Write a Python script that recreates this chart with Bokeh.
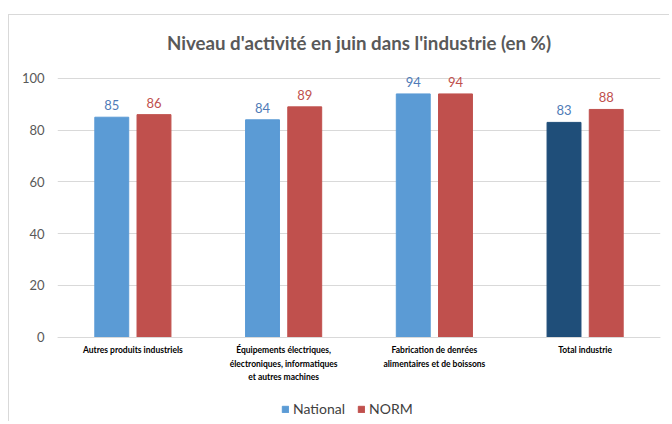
from bokeh.plotting import figure
from bokeh.models import ColumnDataSource, Legend, LegendItem, FixedTicker
from bokeh.transform import dodge
from bokeh.core.properties import value
from bokeh.embed import file_html
from bokeh.resources import INLINE

categories = [
    "Autres produits industriels",
    "Équipements électriques,\nélectroniques, informatiques\net autres machines",
    "Fabrication de denrées\nalimentaires et de boissons",
    "Total industrie",
]
national = [85, 84, 94, 83]
norm = [86, 89, 94, 88]
national_colors = ["#5b9bd5", "#5b9bd5", "#5b9bd5", "#1f4e79"]
y_ticks = [0, 20, 40, 60, 80, 100]

src = ColumnDataSource(dict(
    cat=categories, national=national, norm=norm,
    ncol=national_colors,
    nlab=[str(v) for v in national], rlab=[str(v) for v in norm],
))

FONT = "Lato"
GRAY = "#595959"

p = figure(x_range=categories, y_range=(-32.19, 104.21), width=661, height=407,
           output_backend="svg", toolbar_location=None,
           min_border_left=48, min_border_right=10, min_border_top=49,
           min_border_bottom=2, title="Niveau d'activité en juin dans l'industrie (en %)")
p.margin = (14, 0, 0, 8)
p.styles = {"border-left": "1px solid #d9d9d9", "border-top": "1px solid #d9d9d9"}
p.title.align = "center"
p.title.text_font = FONT
p.title.text_font_size = "18.7px"
p.title.text_font_style = "bold"
p.title.text_color = GRAY
p.title.standoff = 28
p.outline_line_color = None
p.background_fill_color = "white"
p.border_fill_color = "white"

rn = p.vbar(x=dodge("cat", -0.14, range=p.x_range), top="national", width=0.225,
            source=src, fill_color="ncol", line_color="ncol")
rr = p.vbar(x=dodge("cat", 0.14, range=p.x_range), top="norm", width=0.225,
            source=src, fill_color="#c0504d", line_color="#c0504d")

p.text(x=dodge("cat", -0.14, range=p.x_range), y="national", text="nlab", source=src,
       text_align="center", text_baseline="bottom", y_offset=-7,
       text_font=value(FONT), text_font_size="13px", text_color="#4f7bb7")
p.text(x=dodge("cat", 0.14, range=p.x_range), y="norm", text="rlab", source=src,
       text_align="center", text_baseline="bottom", y_offset=-7,
       text_font=value(FONT), text_font_size="13px", text_color="#c0504d")

p.xgrid.grid_line_color = None
p.ygrid.grid_line_color = "#d9d9d9"
p.ygrid.ticker = FixedTicker(ticks=y_ticks)

p.yaxis.ticker = FixedTicker(ticks=y_ticks)
p.yaxis.axis_line_color = None
p.yaxis.major_tick_line_color = None
p.yaxis.minor_tick_line_color = None
p.yaxis.major_label_standoff = 7
p.yaxis.major_label_text_font = FONT
p.yaxis.major_label_text_font_size = "13px"
p.yaxis.major_label_text_color = GRAY

p.xaxis.fixed_location = 0
p.xaxis.axis_line_color = "#d9d9d9"
p.xaxis.major_tick_line_color = None
p.xaxis.minor_tick_line_color = None
p.xaxis.major_label_standoff = 2
p.xaxis.major_label_text_font = FONT
p.xaxis.major_label_text_font_size = "8.5px"
p.xaxis.major_label_text_font_style = "bold"
p.xaxis.major_label_text_color = "#000000"
p.xaxis.major_label_text_line_height = 1.35

legend = Legend(items=[LegendItem(label="National", renderers=[rn], index=0),
                       LegendItem(label="NORM", renderers=[rr], index=0)],
                orientation="horizontal", location=(224, 3))
legend.label_text_font = FONT
legend.label_text_font_size = "14px"
legend.label_text_color = "#404040"
legend.glyph_width = 8
legend.glyph_height = 8
legend.label_standoff = 4
legend.spacing = 12
legend.padding = 0
legend.margin = 0
legend.border_line_color = None
legend.background_fill_alpha = 0
p.add_layout(legend, "center")

open("out.html", "w").write(file_html(p, INLINE))
